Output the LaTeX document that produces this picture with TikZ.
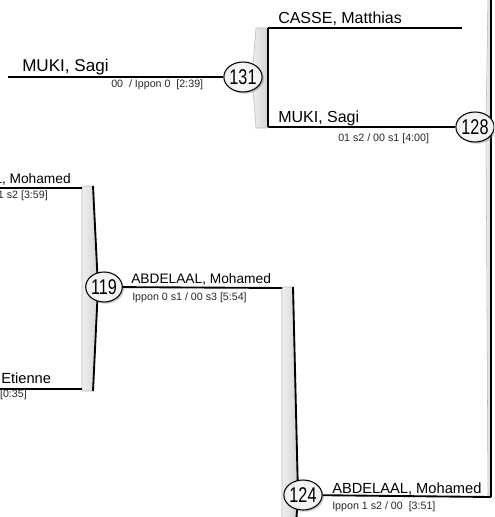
\documentclass[tikz,border=0pt]{standalone}
\usepackage{fontspec}
\setmainfont{Liberation Sans}
\usepackage{tikz}
\usetikzlibrary{shapes.geometric,shadows}
\newcommand{\matchno}[1]{\scalebox{0.76}[1]{#1}}

\begin{document}
\begin{tikzpicture}[x=0.75pt, y=-0.75pt,
    match/.style={ellipse, draw, line width=0.8pt, minimum width=24pt, minimum height=22.5pt, inner sep=0pt,
      inner color=white, outer color=gray!12, drop shadow={opacity=0.4, shadow xshift=1.3pt, shadow yshift=-1.3pt},
      font=\fontsize{16}{16}\selectfont},
    player/.style={anchor=base west, inner sep=0pt, font=\fontsize{12}{14}\selectfont},
    score/.style={anchor=base west, inner sep=0pt, text=black!85, font=\fontsize{8}{9}\selectfont},
    wire/.style={line width=1.4pt},
    bar/.style={draw=gray!55, line width=0.4pt, left color=gray!12, middle color=white, right color=gray!35},
    barside/.style={line width=1.4pt, line join=round}]
  \useasboundingbox (0,0) rectangle (494,517);
  \clip (0,0) rectangle (494,517);
  % bars
  \draw[bar] (256,28) -- (252,77) -- (256,128) -- (268,128) -- (268,28) -- cycle;
  \draw[bar] (82,186) -- (93,186) -- (98,287) -- (93,391) -- (82,391) -- cycle;
  \draw[bar] (282,287) -- (293,287) -- (298,495) -- (295,540) -- (282,540) -- cycle;
  \draw[bar] (488,-5) -- (486,127) -- (488,497) -- (491,497) -- (491,-5) -- cycle;
  \draw[barside] (93,186) -- (98,287) -- (93,391);
  \draw[barside] (293,287) -- (298,495) -- (295,540);
  % line ends
  \coordinate (a1) at (8,77);
  \coordinate (c1) at (268,28);
  \coordinate (c2) at (462,28);
  \coordinate (c3) at (268,127);
  \coordinate (t1) at (0,188);
  \coordinate (t2) at (82,188);
  \coordinate (e1) at (0,389);
  \coordinate (e2) at (82,389);
  \coordinate (b1) at (282,288);
  \coordinate (r1) at (491,-5);
  \coordinate (r2) at (491,497);
  \draw[wire] (r1) -- (r2);
  \draw[wire] (c1) -- (c3);
  % matches
  \node[match] (m131) at (243,77) {\matchno{131}};
  \node[match] (m128) at (475,127) {\matchno{128}};
  \node[match] (m119) at (104,287) {\matchno{119}};
  \node[match] (m124) at (303,495) {\matchno{124}};
  \foreach \x/\y in {a1/m131,c1/c2,c3/m128,t1/t2,e1/e2,m119/b1,m124/r2}
    \draw[wire] (\x) -- (\y);
  % names and scores
  \node[player, font=\fontsize{12.8}{14}\selectfont] (muki1) at (22,71) {MUKI, Sagi};
  \node[score] (s131) at (111,87) {00\ \ / Ippon 0\ \ [2:39]};
  \node[player] (casse) at (278,24) {CASSE, Matthias};
  \node[player] (muki2) at (278,122) {MUKI, Sagi};
  \node[score] (s128) at (338,141) {01 s2 / 00 s1 [4:00]};
  \node[player, anchor=base east, font=\fontsize{10.3}{12}\selectfont] (abd1) at (71,183) {ABDELAAL, Mohamed};
  \node[score, anchor=base east] (s1) at (48,198) {1 s2 [3:59]};
  \node[player, font=\fontsize{11}{13}\selectfont] (etienne) at (1,383) {Etienne};
  \node[score, anchor=base east] (s2) at (27,397) {[0:35]};
  \node[player, font=\fontsize{10.3}{12}\selectfont] (abd2) at (131,283) {ABDELAAL, Mohamed};
  \node[score] (s119) at (132,300) {Ippon 0 s1 / 00 s3 [5:54]};
  \node[player, font=\fontsize{11}{13}\selectfont] (abd3) at (332,493) {ABDELAAL, Mohamed};
  \node[score] (s124) at (332,509) {Ippon 1 s2 / 00\ \ [3:51]};
\end{tikzpicture}
\end{document}
